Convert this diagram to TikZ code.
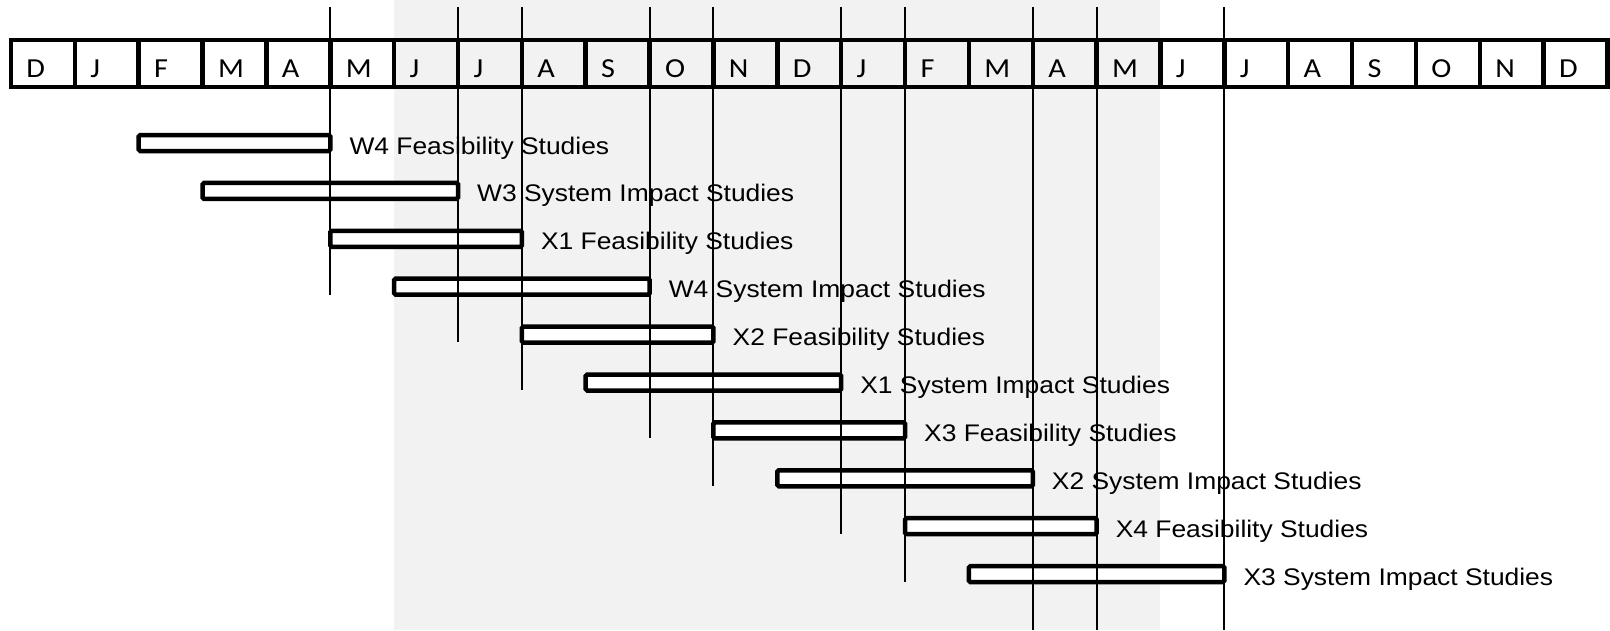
\documentclass[tikz,border=0pt]{standalone}
\usepackage{fontspec}
\usepackage{tikz}
\newfontfamily\labelfont[FakeStretch=1.1]{Liberation Sans}
\newfontfamily\monthfont[FakeStretch=1.1]{Carlito}
\definecolor{panelgray}{RGB}{242,242,242}
\tikzset{
  month/.style={draw, line width=4.5pt, inner xsep=15.5pt, inner ysep=0pt, outer sep=0pt,
    text width=32.86pt, text height=37pt, text depth=10pt, align=left,
    font={\monthfont\fontsize{27.5}{30}\selectfont}},
  bar/.style={draw, fill=white, line width=4.5pt, rounded corners=1.5pt,
    minimum height=16pt, inner sep=0pt, outer sep=0pt},
  feasbar/.style={bar, minimum width=191.58pt},
  impactbar/.style={bar, minimum width=255.44pt},
  tasklabel/.style={anchor=base west, inner sep=0pt, font={\labelfont\fontsize{24}{28}\selectfont}},
  marker/.style={line width=2pt}
}
\begin{document}
\begin{tikzpicture}[x=1pt, y=-1pt]
            \useasboundingbox (0,0) rectangle (1610,630);
            \fill[panelgray] (394.16,0) rectangle (1160.48,630);
            \coordinate (top) at (0,7);
            \node[month] (m0) at (42.93,63.5) {D};
            \node[month] (m1) at (106.79,63.5) {J};
            \node[month] (m2) at (170.65,63.5) {F};
            \node[month] (m3) at (234.51,63.5) {M};
            \node[month] (m4) at (298.37,63.5) {A};
            \node[month] (m5) at (362.23,63.5) {M};
            \node[month] (m6) at (426.09,63.5) {J};
            \node[month] (m7) at (489.95,63.5) {J};
            \node[month] (m8) at (553.81,63.5) {A};
            \node[month] (m9) at (617.67,63.5) {S};
            \node[month] (m10) at (681.53,63.5) {O};
            \node[month] (m11) at (745.39,63.5) {N};
            \node[month] (m12) at (809.25,63.5) {D};
            \node[month] (m13) at (873.11,63.5) {J};
            \node[month] (m14) at (936.97,63.5) {F};
            \node[month] (m15) at (1000.83,63.5) {M};
            \node[month] (m16) at (1064.69,63.5) {A};
            \node[month] (m17) at (1128.55,63.5) {M};
            \node[month] (m18) at (1192.41,63.5) {J};
            \node[month] (m19) at (1256.27,63.5) {J};
            \node[month] (m20) at (1320.13,63.5) {A};
            \node[month] (m21) at (1383.99,63.5) {S};
            \node[month] (m22) at (1447.85,63.5) {O};
            \node[month] (m23) at (1511.71,63.5) {N};
            \node[month] (m24) at (1575.57,63.5) {D};
            \node[feasbar] (b1) at (234.51,143) {};
            \node[impactbar] (b2) at (330.30,190.9) {};
            \node[feasbar] (b3) at (426.09,238.8) {};
            \node[impactbar] (b4) at (521.88,286.7) {};
            \node[feasbar] (b5) at (617.67,334.6) {};
            \node[impactbar] (b6) at (713.46,382.5) {};
            \node[feasbar] (b7) at (809.25,430.4) {};
            \node[impactbar] (b8) at (905.04,478.3) {};
            \node[feasbar] (b9) at (1000.83,526.2) {};
            \node[impactbar] (b10) at (1096.62,574.1) {};
            \node[tasklabel] (l1) at (349.30,154) {W4 Feasibility Studies};
            \node[tasklabel] (l2) at (477.02,201.9) {W3 System Impact Studies};
            \node[tasklabel] (l3) at (540.88,249.8) {X1 Feasibility Studies};
            \node[tasklabel] (l4) at (668.60,297.7) {W4 System Impact Studies};
            \node[tasklabel] (l5) at (732.46,345.6) {X2 Feasibility Studies};
            \node[tasklabel] (l6) at (860.18,393.5) {X1 System Impact Studies};
            \node[tasklabel] (l7) at (924.04,441.4) {X3 Feasibility Studies};
            \node[tasklabel] (l8) at (1051.76,489.3) {X2 System Impact Studies};
            \node[tasklabel] (l9) at (1115.62,537.2) {X4 Feasibility Studies};
            \node[tasklabel] (l10) at (1243.34,585.1) {X3 System Impact Studies};
            \draw[marker] (b1.east |- top) -- ++(0,287.5);
            \draw[marker] (b2.east |- top) -- ++(0,335.4);
            \draw[marker] (b3.east |- top) -- ++(0,383.3);
            \draw[marker] (b4.east |- top) -- ++(0,431.2);
            \draw[marker] (b5.east |- top) -- ++(0,479.1);
            \draw[marker] (b6.east |- top) -- ++(0,527);
            \draw[marker] (b7.east |- top) -- ++(0,574.9);
            \draw[marker] (b8.east |- top) -- ++(0,623);
            \draw[marker] (b9.east |- top) -- ++(0,623);
            \draw[marker] (b10.east |- top) -- ++(0,623);
\end{tikzpicture}
\end{document}
